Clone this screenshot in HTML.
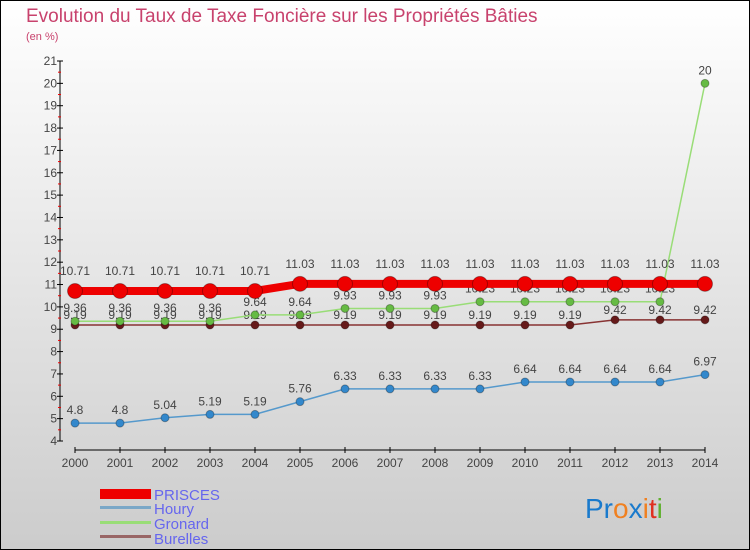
<!DOCTYPE html>
<html><head><meta charset="utf-8"><style>
body{margin:0;width:750px;height:550px;overflow:hidden}
svg{display:block;font-family:"Liberation Sans",sans-serif}
</style></head><body>
<svg id="c" width="750" height="550">
<defs><linearGradient id="bg" x1="0" y1="0" x2="0" y2="1"><stop offset="0" stop-color="#ffffff"/><stop offset="1" stop-color="#cccccc"/></linearGradient></defs>
<rect x="0.5" y="0.5" width="749" height="549" fill="url(#bg)" stroke="#000"/>
<text x="26" y="22" font-size="19" fill="#c8426d">Evolution du Taux de Taxe Foncière sur les Propriétés Bâties</text>
<text x="26" y="40" font-size="11" fill="#c8426d">(en %)</text>
<g id="axes"></g><g id="series"></g>
<g>
<rect x="100" y="489" width="51" height="10" fill="#e00"/>
<text x="154" y="500" font-size="15" fill="#6666ee">PRISCES</text>
<rect x="100" y="506" width="51" height="3" fill="#7aa7c7"/>
<text x="154" y="514" font-size="15" fill="#6666ee">Houry</text>
<rect x="100" y="521" width="51" height="3" fill="#99dd77"/>
<text x="154" y="529" font-size="15" fill="#6666ee">Gronard</text>
<rect x="100" y="535" width="51" height="3" fill="#996666"/>
<text x="154" y="544" font-size="15" fill="#6666ee">Burelles</text>
</g>
<text x="585" y="518" font-size="28"><tspan fill="#1a7acc">Pr</tspan><tspan fill="#f08020">o</tspan><tspan fill="#1a7acc">x</tspan><tspan fill="#f08020">i</tspan><tspan fill="#e03020">t</tspan><tspan fill="#60b030">i</tspan></text>
</svg>
<script>
const years=[2000,2001,2002,2003,2004,2005,2006,2007,2008,2009,2010,2011,2012,2013,2014];
const prisces=[10.71,10.71,10.71,10.71,10.71,11.03,11.03,11.03,11.03,11.03,11.03,11.03,11.03,11.03,11.03];
const houry=[4.8,4.8,5.04,5.19,5.19,5.76,6.33,6.33,6.33,6.33,6.64,6.64,6.64,6.64,6.97];
const gronard=[9.36,9.36,9.36,9.36,9.64,9.64,9.93,9.93,9.93,10.23,10.23,10.23,10.23,10.23,20];
const burelles=[9.19,9.19,9.19,9.19,9.19,9.19,9.19,9.19,9.19,9.19,9.19,9.19,9.42,9.42,9.42];
const yTicks=[4,5,6,7,8,9,10,11,12,13,14,15,16,17,18,19,20,21];
const NS="http://www.w3.org/2000/svg";
const X=i=>75+i*45, Y=v=>441-(v-4)*(380/17);
function mk(t,a,p){const e=document.createElementNS(NS,t);for(const k in a)e.setAttribute(k,a[k]);p.appendChild(e);return e;}
const ax=document.getElementById('axes'), sg=document.getElementById('series');
let l=mk('line',{x1:60,y1:Y(21),x2:60,y2:Y(4),stroke:'#000'},ax);


l=mk('line',{x1:75,y1:450,x2:705,y2:450,stroke:'#000'},ax);


yTicks.forEach(v=>{
 mk('line',{x1:57,x2:63,y1:Y(v),y2:Y(v),stroke:'#000'},ax);
 if(v<21) mk('line',{x1:58,x2:61,y1:Y(v+0.5),y2:Y(v+0.5),stroke:'#e00'},ax);
 const t=mk('text',{x:57,y:Y(v)+4,'font-size':12,'text-anchor':'end',fill:'#444'},ax);t.textContent=v;
 
 
});
years.forEach((y,i)=>{
 mk('line',{x1:X(i),x2:X(i),y1:447,y2:453,stroke:'#000'},ax);
 const t=mk('text',{x:X(i),y:467,'font-size':12,'text-anchor':'middle',fill:'#444'},ax);t.textContent=y;
 
 
});
function series(name,data,col,dot,w,r,off){
 const g=mk('g',{},sg);
 
 
 mk('polyline',{points:data.map((v,i)=>X(i)+','+Y(v)).join(' '),fill:'none',stroke:col,'stroke-width':w},g);
 data.forEach((v,i)=>{
  const c=mk('circle',{cx:X(i),cy:Y(v),r:r,fill:dot,stroke:'rgba(0,0,0,0.3)'},g);
  
  
  const t=mk('text',{x:X(i),y:Y(v)-off,'font-size':12,'text-anchor':'middle',fill:'#444'},g);t.textContent=v;
  
  
 });
}
series('burelles',burelles,'#883333','#661a1a',1.5,4,6);
series('gronard',gronard,'#99dd77','#66bb44',1.5,4,9);
series('houry',houry,'#5599cc','#3388cc',1.5,4,9);
series('prisces',prisces,'#ee0000','#ee0000',8,7.5,16);
</script>
</body></html>
